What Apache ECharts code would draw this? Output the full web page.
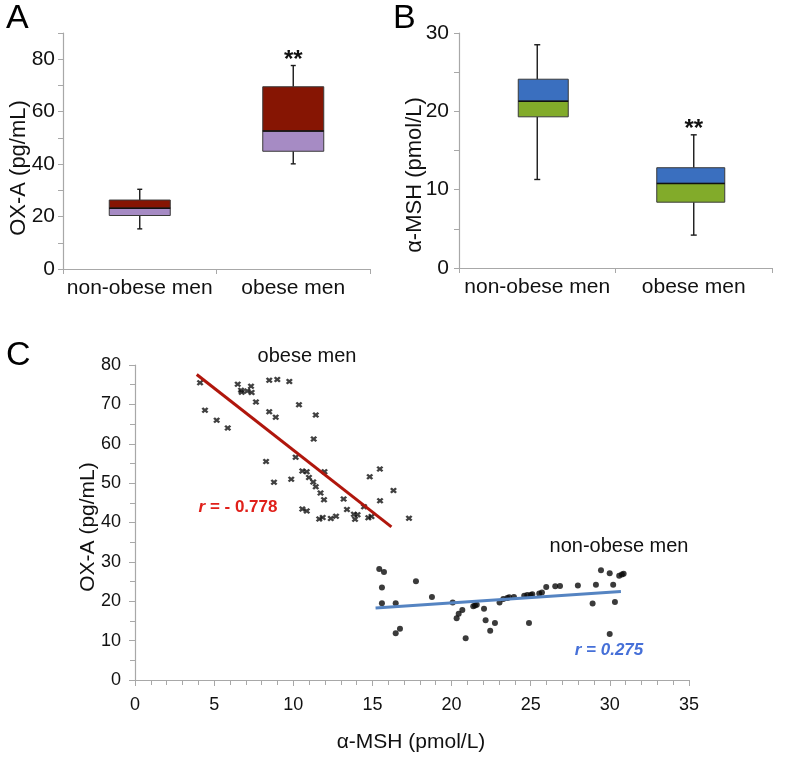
<!DOCTYPE html>
<html>
<head>
<meta charset="utf-8">
<script src="https://cdn.jsdelivr.net/npm/echarts@6/dist/echarts.min.js"></script>
<style>
html,body{margin:0;padding:0;background:#fff;}
#chart{width:796px;height:757px;}
</style>
</head>
<body>
<div id="chart"></div>
<script>
// ---------- DATA ----------
const groups = ['non-obese men', 'obese men'];
// [lower whisker, Q1, median, Q3, upper whisker]
const oxaBox = [[15.3, 20.4, 23.2, 26.3, 30.4], [40.1, 44.9, 52.6, 69.5, 77.6]];
const mshBox = [[11.3, 19.3, 21.3, 24.1, 28.5], [4.2, 8.4, 10.8, 12.8, 17.0]];
const sigMarks = ['', '**'];
const oxaTickLabelsA = [0, 20, 40, 60, 80];
const mshTickLabelsB = [0, 10, 20, 30];
const mshTicksC = [0, 5, 10, 15, 20, 25, 30, 35];
const oxaTicksC = [0, 10, 20, 30, 40, 50, 60, 70, 80];

const obeseMSH = [4.11, 4.42, 5.16, 5.86, 6.49, 6.70, 6.74, 7.09, 7.33, 7.37, 7.64, 8.48, 8.99, 8.48, 8.89, 9.75, 10.36, 11.42, 11.29, 8.28, 8.78, 10.15, 9.87, 10.57, 10.85, 10.99, 11.26, 11.42, 11.72, 11.94, 11.97, 10.57, 10.85, 11.64, 11.86, 12.37, 12.70, 13.18, 13.39, 13.83, 14.06, 13.90, 14.74, 14.94, 14.83, 15.47, 15.48, 16.33, 17.31, 14.47];
const obeseOXA = [75.5, 68.5, 66.0, 64.0, 75.1, 73.6, 73.1, 73.4, 74.6, 73.0, 70.6, 76.1, 76.3, 68.1, 66.7, 75.8, 69.9, 67.3, 61.2, 55.5, 50.2, 56.6, 51.0, 53.1, 52.9, 51.4, 50.3, 49.1, 47.5, 45.8, 52.9, 43.4, 42.9, 40.9, 41.3, 41.0, 41.6, 46.0, 43.3, 42.1, 42.0, 40.8, 41.2, 41.5, 51.6, 53.6, 45.5, 48.1, 41.1, 44.0];

const nonObeseMSH = [15.43, 15.73, 15.60, 15.60, 16.47, 16.47, 16.74, 17.75, 18.76, 20.07, 20.32, 20.45, 20.68, 20.89, 21.37, 21.48, 21.59, 22.05, 22.15, 22.44, 22.74, 23.03, 23.27, 23.52, 23.64, 23.94, 24.59, 24.78, 25.00, 25.10, 25.54, 25.71, 25.98, 26.55, 26.85, 24.89, 27.98, 28.91, 29.12, 29.44, 29.99, 30.21, 30.32, 29.99, 30.59, 30.76, 30.87];
const nonObeseOXA = [28.2, 27.4, 23.5, 19.5, 19.5, 11.9, 13.0, 25.1, 21.1, 19.7, 15.7, 16.8, 17.8, 10.6, 18.7, 18.9, 19.1, 18.1, 15.2, 12.5, 14.5, 19.7, 20.6, 20.8, 21.0, 21.1, 21.4, 21.6, 21.6, 21.8, 22.0, 22.2, 23.6, 23.8, 23.9, 14.5, 24.0, 19.4, 24.2, 27.9, 27.1, 24.2, 19.8, 11.7, 26.5, 26.8, 27.0];

const obeseFitX = [3.9, 16.2];
const obeseFitY = [77.6, 38.9];
const nonObeseFitX = [15.2, 30.7];
const nonObeseFitY = [18.3, 22.5];

// ---------- STYLE ----------
const FONT = 'Liberation Sans, Arial, Helvetica, sans-serif';
const AXIS_GRAY = '#a8a8a8';
const TXT = '#111';

function makeBoxRender(cfg) {
  return function (params, api) {
    const i = api.value(0);
    const pLow = api.coord([i, api.value(1)]);
    const cx = pLow[0];
    const yLow = pLow[1];
    const yQ1 = api.coord([i, api.value(2)])[1];
    const yMed = api.coord([i, api.value(3)])[1];
    const yQ3 = api.coord([i, api.value(4)])[1];
    const yHigh = api.coord([i, api.value(5)])[1];
    const bw = cfg.boxW[i];
    const bx = cx + cfg.boxDx[i] - bw / 2;
    const cw = cfg.capW / 2;
    const wl = {stroke: '#1a1a1a', lineWidth: 1.4};
    const children = [
      {type: 'line', shape: {x1: cx, y1: yLow, x2: cx, y2: yQ1}, style: wl},
      {type: 'line', shape: {x1: cx, y1: yQ3, x2: cx, y2: yHigh}, style: wl},
      {type: 'line', shape: {x1: cx - cw, y1: yLow, x2: cx + cw, y2: yLow}, style: wl},
      {type: 'line', shape: {x1: cx - cw, y1: yHigh, x2: cx + cw, y2: yHigh}, style: wl},
      {type: 'rect', shape: {x: bx, y: yMed, width: bw, height: yQ1 - yMed}, style: {fill: cfg.lowColor, stroke: '#3a3a3a', lineWidth: 1}},
      {type: 'rect', shape: {x: bx, y: yQ3, width: bw, height: yMed - yQ3}, style: {fill: cfg.highColor, stroke: '#3a3a3a', lineWidth: 1}},
      {type: 'line', shape: {x1: bx, y1: yMed, x2: bx + bw, y2: yMed}, style: {stroke: '#111', lineWidth: 1.5}}
    ];
    const s = sigMarks[i];
    if (s) {
      children.push({type: 'text', style: {text: s, x: cx, y: yHigh - 5, align: 'center', verticalAlign: 'middle', font: 'bold 24px ' + FONT, fill: '#111'}});
    }
    return {type: 'group', children: children};
  };
}

function catAxis(gridIndex) {
  return {
    type: 'category', gridIndex: gridIndex, data: groups,
    axisLine: {lineStyle: {color: AXIS_GRAY, width: 1.2}},
    axisTick: {show: true, length: 5, lineStyle: {color: AXIS_GRAY}},
    axisLabel: {fontSize: 21, color: TXT, margin: 9, fontFamily: FONT, interval: 0, hideOverlap: false}
  };
}

const chart = echarts.init(document.getElementById('chart'), null, {renderer: 'canvas'});
const option = {
  animation: false,
  backgroundColor: '#fff',
  textStyle: {fontFamily: FONT},
  grid: [
    {left: 63, top: 33, width: 307, height: 236},
    {left: 459, top: 33, width: 313, height: 235},
    {left: 135, top: 365, width: 554, height: 315}
  ],
  xAxis: [
    catAxis(0),
    catAxis(1),
    {
      type: 'value', gridIndex: 2, min: mshTicksC[0], max: mshTicksC[mshTicksC.length - 1], interval: 5,
      axisLine: {lineStyle: {color: AXIS_GRAY, width: 1.2}},
      axisTick: {show: true, length: 6, lineStyle: {color: AXIS_GRAY}},
      minorTick: {show: true, splitNumber: 5, length: 5, lineStyle: {color: AXIS_GRAY}},
      splitLine: {show: false},
      axisLabel: {fontSize: 18, color: TXT, margin: 16, fontFamily: FONT}
    }
  ],
  yAxis: [
    {
      type: 'value', gridIndex: 0, min: 0, max: 90, interval: 10,
      axisLine: {show: true, lineStyle: {color: AXIS_GRAY, width: 1.2}},
      axisTick: {show: true, length: 5, lineStyle: {color: AXIS_GRAY}},
      splitLine: {show: false},
      axisLabel: {fontSize: 21, color: TXT, margin: 8, fontFamily: FONT,
        formatter: v => oxaTickLabelsA.indexOf(v) >= 0 ? String(v) : ''}
    },
    {
      type: 'value', gridIndex: 1, min: 0, max: 30, interval: 5,
      axisLine: {show: true, lineStyle: {color: AXIS_GRAY, width: 1.2}},
      axisTick: {show: true, length: 5, lineStyle: {color: AXIS_GRAY}},
      splitLine: {show: false},
      axisLabel: {fontSize: 21, color: TXT, margin: 10, fontFamily: FONT,
        formatter: v => mshTickLabelsB.indexOf(v) >= 0 ? String(v) : ''}
    },
    {
      type: 'value', gridIndex: 2, min: oxaTicksC[0], max: oxaTicksC[oxaTicksC.length - 1], interval: 10,
      axisLine: {show: true, lineStyle: {color: AXIS_GRAY, width: 1.2}},
      axisTick: {show: true, length: 6, lineStyle: {color: AXIS_GRAY}},
      minorTick: {show: true, splitNumber: 2, length: 5, lineStyle: {color: AXIS_GRAY}},
      splitLine: {show: false},
      axisLabel: {fontSize: 18, color: TXT, margin: 14, fontFamily: FONT}
    }
  ],
  series: [
    {
      type: 'custom', xAxisIndex: 0, yAxisIndex: 0,
      renderItem: makeBoxRender({boxW: [61, 61], boxDx: [0, 0], capW: 5, lowColor: '#a68bc4', highColor: '#861503'}),
      encode: {x: 0, y: [1, 2, 3, 4, 5]},
      data: oxaBox.map((b, i) => [i].concat(b))
    },
    {
      type: 'custom', xAxisIndex: 1, yAxisIndex: 1,
      renderItem: makeBoxRender({boxW: [50, 68], boxDx: [6, -3], capW: 6, lowColor: '#82ab2a', highColor: '#3a6fbf'}),
      encode: {x: 0, y: [1, 2, 3, 4, 5]},
      data: mshBox.map((b, i) => [i].concat(b))
    },
    {
      type: 'scatter', xAxisIndex: 2, yAxisIndex: 2,
      symbol: 'path://M0,2.5L2.5,0L5,2.5L7.5,0L10,2.5L7.5,5L10,7.5L7.5,10L5,7.5L2.5,10L0,7.5L2.5,5Z',
      symbolSize: [7, 6],
      itemStyle: {color: '#111'},
      data: obeseMSH.map((x, i) => [x, obeseOXA[i]])
    },
    {
      type: 'line', xAxisIndex: 2, yAxisIndex: 2, symbol: 'none',
      lineStyle: {color: '#b0160c', width: 3},
      data: obeseFitX.map((x, i) => [x, obeseFitY[i]])
    },
    {
      type: 'line', xAxisIndex: 2, yAxisIndex: 2, symbol: 'none',
      lineStyle: {color: '#5584c2', width: 3},
      data: nonObeseFitX.map((x, i) => [x, nonObeseFitY[i]])
    },
    {
      type: 'scatter', xAxisIndex: 2, yAxisIndex: 2,
      symbol: 'circle', symbolSize: 6,
      itemStyle: {color: '#0a0a0a'},
      data: nonObeseMSH.map((x, i) => [x, nonObeseOXA[i]])
    }
  ],
  graphic: [
    {type: 'text', left: 6, top: 2, style: {text: 'A', font: '34px ' + FONT, fill: '#000'}},
    {type: 'text', left: 393, top: 2, style: {text: 'B', font: '34px ' + FONT, fill: '#000'}},
    {type: 'text', left: 6, top: 339, style: {text: 'C', font: '34px ' + FONT, fill: '#000'}},
    {type: 'text', x: 19, y: 168, rotation: Math.PI / 2, style: {text: 'OX-A (pg/mL)', font: '22px ' + FONT, fill: TXT, align: 'center', verticalAlign: 'middle'}},
    {type: 'text', x: 415, y: 175, rotation: Math.PI / 2, style: {text: 'α-MSH (pmol/L)', font: '22px ' + FONT, fill: TXT, align: 'center', verticalAlign: 'middle'}},
    {type: 'text', x: 88, y: 527, rotation: Math.PI / 2, style: {text: 'OX-A (pg/mL)', font: '21px ' + FONT, fill: TXT, align: 'center', verticalAlign: 'middle'}},
    {type: 'text', x: 411, y: 742, style: {text: 'α-MSH (pmol/L)', font: '21px ' + FONT, fill: TXT, align: 'center', verticalAlign: 'middle'}},
    {type: 'text', x: 307, y: 356, style: {text: 'obese men', font: '20px ' + FONT, fill: TXT, align: 'center', verticalAlign: 'middle'}},
    {type: 'text', x: 619, y: 546, style: {text: 'non-obese men', font: '20px ' + FONT, fill: TXT, align: 'center', verticalAlign: 'middle'}},
    {type: 'text', x: 238, y: 507, style: {
      text: '{i|r}{b| = - 0.778}', align: 'center', verticalAlign: 'middle',
      rich: {
        i: {font: 'italic bold 17px ' + FONT, fill: '#e0201a'},
        b: {font: 'bold 17px ' + FONT, fill: '#e0201a'}
      }}},
    {type: 'text', x: 609, y: 650, style: {text: 'r = 0.275', font: 'italic bold 17px ' + FONT, fill: '#4670d8', align: 'center', verticalAlign: 'middle'}}
  ]
};
chart.setOption(option);
</script>
</body>
</html>
